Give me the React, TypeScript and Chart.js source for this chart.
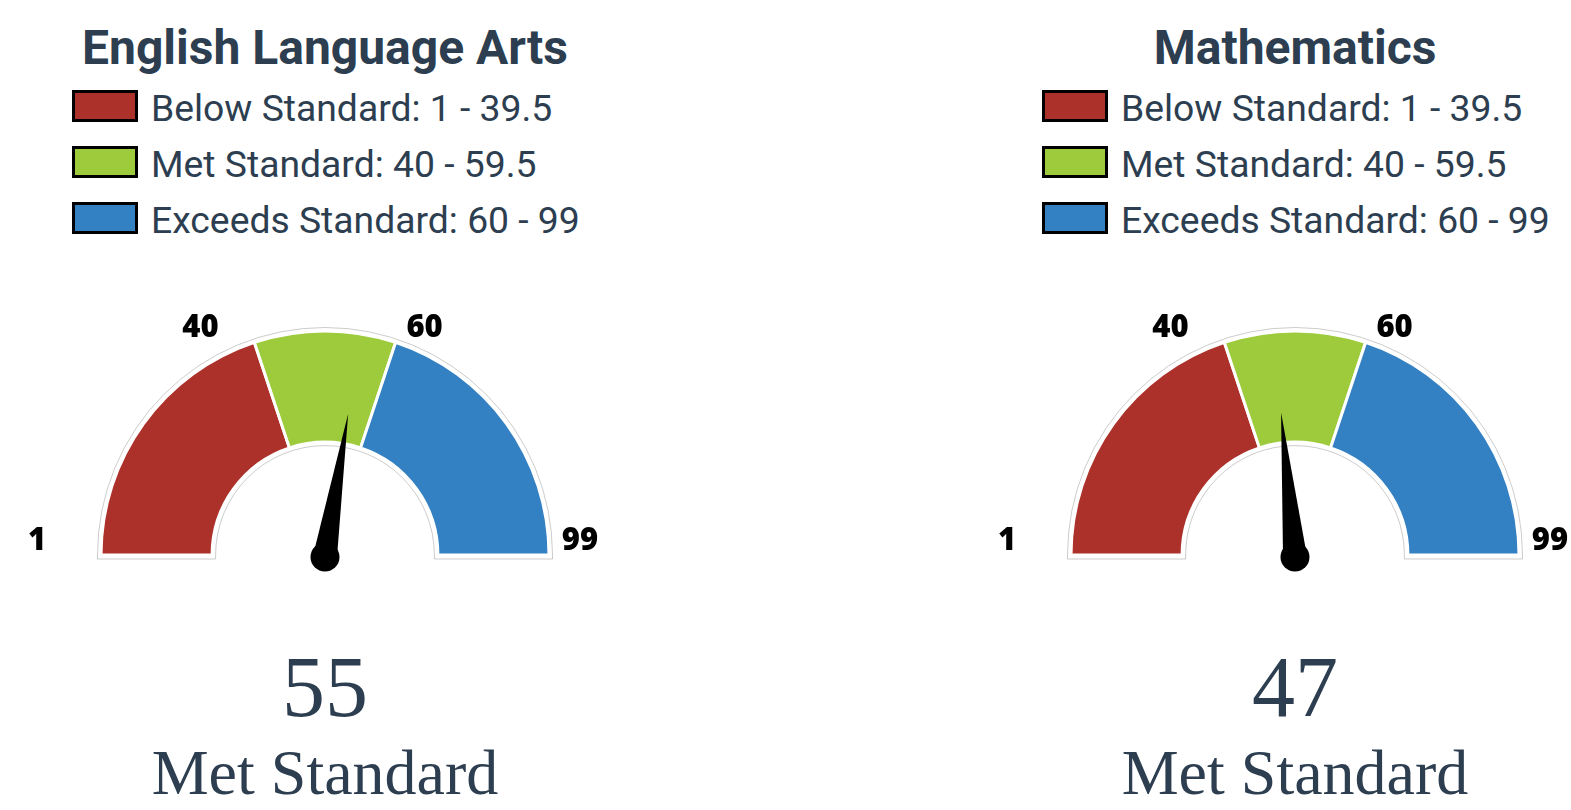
import React, { useEffect, useRef } from "react";
import { Chart, registerables } from "chart.js";

Chart.register(...registerables);

// ---- data ----
const subjects = ["English Language Arts", "Mathematics"];
const scores = [55, 47];
const statusLabels = ["Met Standard", "Met Standard"];
const bandNames = ["Below Standard", "Met Standard", "Exceeds Standard"];
const bandRanges = ["1 - 39.5", "40 - 59.5", "60 - 99"];
const bandBounds = [1, 40, 60, 99];
const tickLabels = ["1", "40", "60", "99"];
const bandColors = ["#AD312B", "#9DCB3C", "#3380C2"];

// ---- layout / style ----
const TEXT_COLOR = "#2c3e50";
const panelCenters = [325, 1295];
const tickOffsetX = [-64, -54, 29, 31];
const tickOffsetY = -5;

const bandSizes = bandBounds.slice(1).map((b, i) => b - bandBounds[i]);

const gaugePlugin = {
  id: "gaugeDecor",
  beforeDatasetsDraw(chart: any) {
    const arcs = chart.getDatasetMeta(0).data as any[];
    if (!arcs.length) return;
    const { x, y, outerRadius, innerRadius } = arcs[0];
    const ctx: CanvasRenderingContext2D = chart.ctx;
    const ro = outerRadius + 3.5;
    const ri = innerRadius - 3.5;
    const e = 4;
    ctx.save();
    ctx.beginPath();
    ctx.moveTo(x - ro, y + e);
    ctx.lineTo(x - ro, y);
    ctx.arc(x, y, ro, Math.PI, 2 * Math.PI);
    ctx.lineTo(x + ro, y + e);
    ctx.lineTo(x + ri, y + e);
    ctx.lineTo(x + ri, y);
    ctx.arc(x, y, ri, 0, Math.PI, true);
    ctx.lineTo(x - ri, y + e);
    ctx.closePath();
    ctx.fillStyle = "#ffffff";
    ctx.fill();
    ctx.strokeStyle = "rgba(0,0,0,0.2)";
    ctx.lineWidth = 1;
    ctx.stroke();
    ctx.restore();
  },
  afterDatasetsDraw(chart: any, _args: any, opts: any) {
    const arcs = chart.getDatasetMeta(0).data as any[];
    if (!arcs.length) return;
    const { x, y, outerRadius } = arcs[0];
    const start = arcs[0].startAngle;
    const end = arcs[arcs.length - 1].endAngle;
    const min = bandBounds[0];
    const max = bandBounds[bandBounds.length - 1];
    const ang = (v: number) => start + ((v - min) / (max - min)) * (end - start);
    const ctx: CanvasRenderingContext2D = chart.ctx;
    ctx.save();
    // tick labels
    ctx.font = "800 31px 'Open Sans'";
    ctx.fillStyle = "#000000";
    ctx.textAlign = "center";
    ctx.textBaseline = "alphabetic";
    tickLabels.forEach((t, i) => {
      const a = ang(bandBounds[i]);
      const px = x + outerRadius * Math.cos(a);
      const py = y + outerRadius * Math.sin(a);
      ctx.fillText(t, px + tickOffsetX[i], py + tickOffsetY);
    });
    // needle
    const value = opts.value as number;
    const a = ang(value);
    const px = x;
    const py = y + 2;
    const len = outerRadius * 0.648;
    const half = 12;
    const tx = px + len * Math.cos(a);
    const ty = py + len * Math.sin(a);
    const nx = -Math.sin(a);
    const ny = Math.cos(a);
    ctx.fillStyle = "#000000";
    ctx.beginPath();
    ctx.moveTo(tx, ty);
    ctx.lineTo(px + nx * half, py + ny * half);
    ctx.lineTo(px - nx * half, py - ny * half);
    ctx.closePath();
    ctx.fill();
    ctx.beginPath();
    ctx.arc(px, py, 14.5, 0, Math.PI * 2);
    ctx.fill();
    ctx.restore();
  },
};

function Gauge({ cx, value }: { cx: number; value: number }) {
  const ref = useRef<HTMLCanvasElement>(null);
  useEffect(() => {
    const chart = new Chart(ref.current as HTMLCanvasElement, {
      type: "doughnut",
      data: {
        labels: bandNames,
        datasets: [
          {
            data: bandSizes,
            backgroundColor: bandColors,
            borderColor: "#ffffff",
            borderWidth: 3,
          },
        ],
      },
      options: {
        responsive: false,
        animation: false,
        events: [],
        rotation: -90,
        circumference: 180,
        cutout: "50.4%",
        radius: 224,
        layout: { padding: 0 },
        plugins: {
          legend: { display: false },
          tooltip: { enabled: false },
          gaugeDecor: { value },
        } as any,
      } as any,
      plugins: [gaugePlugin as any],
    });
    return () => chart.destroy();
  }, [value]);
  return (
    <canvas
      ref={ref}
      width={634}
      height={306}
      style={{ position: "absolute", left: cx - 317, top: 290, width: 634, height: 306 }}
    />
  );
}

function Panel({ idx }: { idx: number }) {
  const cx = panelCenters[idx];
  return (
    <>
      <div
        style={{
          position: "absolute",
          left: cx - 400,
          width: 800,
          top: 23.6,
          textAlign: "center",
          fontFamily: "Roboto",
          fontWeight: 700,
          fontSize: 48,
          lineHeight: 1,
          color: TEXT_COLOR,
          whiteSpace: "nowrap",
        }}
      >
        {subjects[idx]}
      </div>
      {bandNames.map((name, i) => (
        <React.Fragment key={name}>
          <div
            style={{
              position: "absolute",
              left: cx - 253,
              top: 89.5 + 56 * i,
              width: 66,
              height: 32,
              boxSizing: "border-box",
              border: "3px solid #000",
              background: bandColors[i],
            }}
          />
          <div
            style={{
              position: "absolute",
              left: cx - 174,
              top: 89.6 + 56 * i,
              fontFamily: "Roboto",
              fontWeight: 400,
              fontSize: 37.3,
              lineHeight: 1,
              color: TEXT_COLOR,
              whiteSpace: "nowrap",
            }}
          >
            {name}: {bandRanges[i]}
          </div>
        </React.Fragment>
      ))}
      <Gauge cx={cx} value={scores[idx]} />
      <div
        style={{
          position: "absolute",
          left: cx - 300,
          width: 600,
          top: 644,
          textAlign: "center",
          fontFamily: "'Liberation Serif'",
          fontSize: 86,
          lineHeight: 1,
          color: TEXT_COLOR,
        }}
      >
        {scores[idx]}
      </div>
      <div
        style={{
          position: "absolute",
          left: cx - 300,
          width: 600,
          top: 741.4,
          textAlign: "center",
          fontFamily: "'Liberation Serif'",
          fontSize: 64,
          lineHeight: 1,
          color: TEXT_COLOR,
          whiteSpace: "nowrap",
        }}
      >
        {statusLabels[idx]}
      </div>
    </>
  );
}

export default function App() {
  return (
    <div
      style={{
        position: "fixed",
        left: 0,
        top: 0,
        width: "100%",
        height: "100%",
        overflow: "hidden",
        background: "#ffffff",
      }}
    >
      {subjects.map((_, i) => (
        <Panel key={i} idx={i} />
      ))}
    </div>
  );
}
